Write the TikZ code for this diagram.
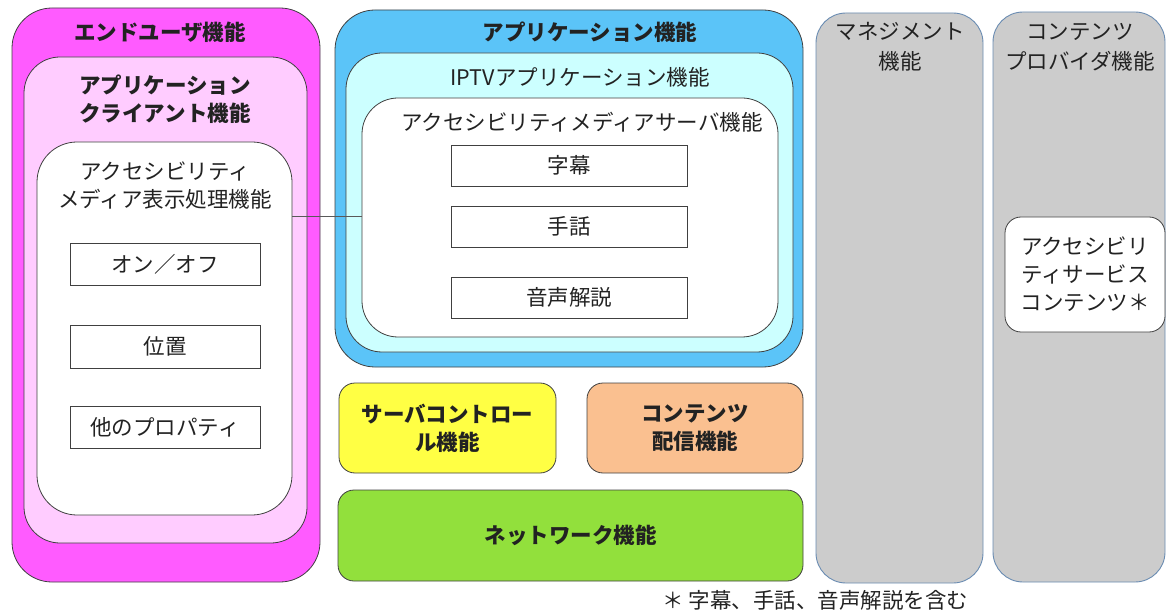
\documentclass[tikz,border=0pt]{standalone}
\usepackage{fontspec}
\setmainfont{Noto Sans CJK JP}
\definecolor{cmag}{HTML}{FF5BFF}
\definecolor{cpink}{HTML}{FFCCFF}
\definecolor{cblue}{HTML}{5BC4F8}
\definecolor{ccyan}{HTML}{CCFFFF}
\definecolor{cyel}{HTML}{FFFF44}
\definecolor{corg}{HTML}{FAC090}
\definecolor{cgrn}{HTML}{92E03C}
\definecolor{cgry}{HTML}{CCCCCC}
\definecolor{cgbd}{HTML}{6A8CB2}
\definecolor{ctxt}{HTML}{222222}
\begin{document}
\begin{tikzpicture}[x=1pt,y=-1pt,
  rbox/.style={draw=black!75, line width=0.8pt, rectangle, inner sep=0pt},
  gbox/.style={draw=cgbd, line width=0.9pt, fill=cgry, rectangle, inner sep=0pt, rounded corners=30pt},
  sbox/.style={draw=black!75, line width=0.8pt, fill=white, rectangle, inner sep=0pt},
  lbl/.style={text=ctxt, align=center, inner sep=0pt, font=\fontsize{21.5}{28}\selectfont},
  blbl/.style={lbl, font=\fontsize{21.5}{28}\selectfont\bfseries}]
\useasboundingbox (0,0) rectangle (1167,612);
% end user
\node[rbox, fill=cmag, rounded corners=40pt, minimum width=308pt, minimum height=574pt] (eu) at (166,295) {};
\node[rbox, fill=cpink, rounded corners=36pt, minimum width=283pt, minimum height=486pt] (ac) at (165.5,300) {};
\node[rbox, fill=white, rounded corners=40pt, minimum width=255pt, minimum height=373pt] (disp) at (164.5,328.5) {};
\node[blbl] (eut) at (160,32) {エンドユーザ機能};
\node[blbl] (act) at (165,99) {アプリケーション\\クライアント機能};
\node[lbl] (dispt) at (165,186) {アクセシビリティ\\メディア表示処理機能};
\node[sbox, minimum width=190pt, minimum height=42pt] (onoff) at (165,264) {};
\node[sbox, minimum width=190pt, minimum height=43pt] (pos) at (165,346.5) {};
\node[sbox, minimum width=190pt, minimum height=42pt] (oth) at (165,427) {};
\node[lbl] at (onoff) {オン／オフ};
\node[lbl] at (pos) {位置};
\node[lbl] at (oth) {他のプロパティ};
% application
\node[rbox, fill=cblue, rounded corners=40pt, minimum width=468pt, minimum height=357pt] (app) at (569,188.5) {};
\node[rbox, fill=ccyan, rounded corners=36pt, minimum width=447pt, minimum height=299pt] (iptv) at (569.5,202.5) {};
\node[rbox, fill=white, rounded corners=36pt, minimum width=416pt, minimum height=239pt] (srv) at (570,217.5) {};
\node[blbl] (appt) at (590,32) {アプリケーション機能};
\node[lbl] (iptvt) at (580,77) {IPTVアプリケーション機能};
\node[lbl] (srvt) at (582,122) {アクセシビリティメディアサーバ機能};
\node[sbox, minimum width=236pt, minimum height=41pt] (sub) at (569,165.5) {};
\node[sbox, minimum width=236pt, minimum height=41pt] (sign) at (569,226.5) {};
\node[sbox, minimum width=236pt, minimum height=41pt] (ad) at (569,297.5) {};
\node[lbl] at (sub) {字幕};
\node[lbl] at (sign) {手話};
\node[lbl] at (ad) {音声解説};
% connector
\coordinate (cy) at (0,216);
\draw[black!65, line width=0.7pt] (disp.east |- cy) -- (srv.west |- cy);
% lower boxes
\node[rbox, fill=cyel, rounded corners=16pt, minimum width=217pt, minimum height=90pt] (ctl) at (447.5,428) {};
\node[rbox, fill=corg, rounded corners=16pt, minimum width=216pt, minimum height=90pt] (cdl) at (695,428) {};
\node[rbox, fill=cgrn, rounded corners=16pt, minimum width=465pt, minimum height=91pt] (net) at (570.5,535.5) {};
\node[blbl] at (ctl) {サーバコントロー\\ル機能};
\node[blbl] at (cdl) {コンテンツ\\配信機能};
\node[blbl] at (net) {ネットワーク機能};
% management / content provider
\node[gbox, minimum width=167pt, minimum height=570pt] (mg) at (899.5,298) {};
\node[gbox, minimum width=172pt, minimum height=570pt] (cp) at (1079,297) {};
\node[lbl, font=\fontsize{21.5}{30}\selectfont] (mgt) at (900,47) {マネジメント\\機能};
\node[lbl, font=\fontsize{21.5}{30}\selectfont] (cpt) at (1080,47) {コンテンツ\\プロバイダ機能};
\node[sbox, rounded corners=16pt, minimum width=160pt, minimum height=115pt] (asc) at (1085,274.5) {};
\node[lbl] at (asc) {アクセシビリ\\ティサービス\\コンテンツ＊};
% footnote
\node[lbl, anchor=west] (fn) at (662,600) {＊ 字幕、手話、音声解説を含む};
\end{tikzpicture}
\end{document}
